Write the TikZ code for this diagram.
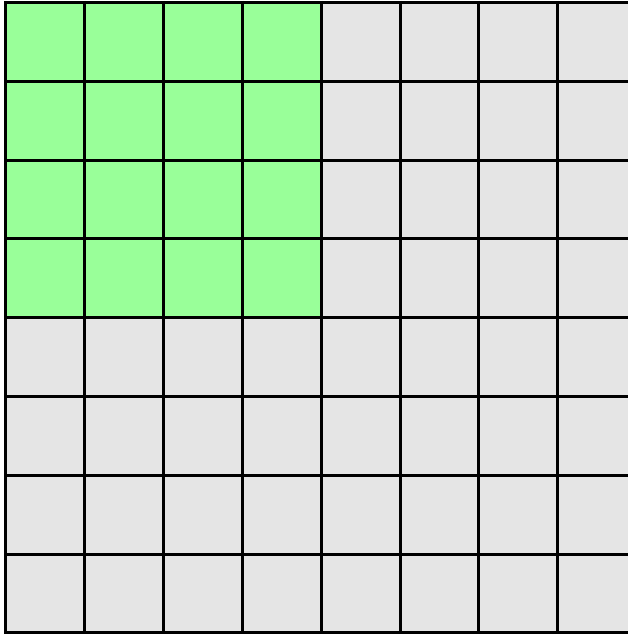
\documentclass[tikz,border=0pt]{standalone}
\definecolor{cellgreen}{HTML}{99FF99}
\definecolor{cellgray}{HTML}{E5E5E5}
\tikzset{gridline/.style={line width=3pt, draw=black}}
\begin{document}
\begin{tikzpicture}[x=1pt,y=-1pt]
\useasboundingbox (0,0) rectangle (628,634);
\begin{scope}
\clip (0,0) rectangle (628,634);
\fill[white] (0,0) rectangle (628,634);
\fill[cellgray] (5.5,2.5) rectangle (700,700);
\fill[cellgreen] (5.5,2.5) rectangle (5.5+4*78.9,2.5+4*78.8);
\foreach \i in {0,...,8} {
  \draw[gridline] (5.5+\i*78.9,1) -- (5.5+\i*78.9,640);
  \draw[gridline] (4,2.5+\i*78.8) -- (640,2.5+\i*78.8);
}
\end{scope}
\end{tikzpicture}
\end{document}
